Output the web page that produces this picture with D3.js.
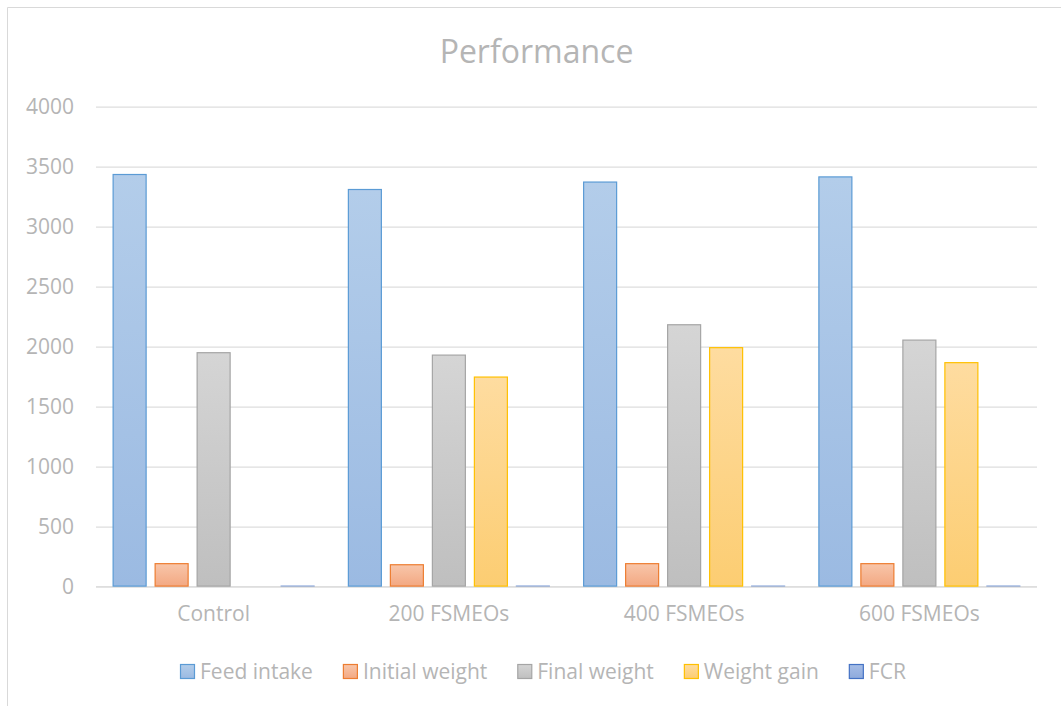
<!DOCTYPE html>
<html>
<head>
<meta charset="utf-8">
<script src="https://cdn.jsdelivr.net/npm/d3@7"></script>
<style>
  html, body { margin: 0; padding: 0; background: #fff; }
  svg { display: block; font-family: "Open Sans", "Noto Sans", sans-serif; }
</style>
</head>
<body>
<svg id="chart" width="1061" height="706"></svg>
<script>
// Treatment groups and measured performance traits
const categories = ["Control", "200 FSMEOs", "400 FSMEOs", "600 FSMEOs"];
const seriesNames = ["Feed intake", "Initial weight", "Final weight", "Weight gain", "FCR"];

const feedIntake    = [3430, 3305, 3367, 3410];
const initialWeight = [187, 178, 187, 187];
const finalWeight   = [1945, 1925, 2178, 2050];
const weightGain    = [0, 1742, 1987, 1862];
const fcr           = [1.76, 1.90, 1.69, 1.83];

const yTicks = [0, 500, 1000, 1500, 2000, 2500, 3000, 3500, 4000];

const seriesValues = [feedIntake, initialWeight, finalWeight, weightGain, fcr];

const styles = [
  { top: "#b3cdea", bottom: "#9bbae2", stroke: "#5b9bd5" },
  { top: "#f8c6aa", bottom: "#f3a882", stroke: "#ed7d31" },
  { top: "#d5d5d5", bottom: "#bfbfbf", stroke: "#a5a5a5" },
  { top: "#fedca0", bottom: "#fccd72", stroke: "#ffc000" },
  { top: "#a6bde6", bottom: "#8eaadc", stroke: "#4472c4" }
];

const svg = d3.select("#chart");
const textColor = "#b5b5b5";
const gridColor = "#dedede";
const fontSize = 21;

// Outer chart frame (top and left edges fall inside the page)
svg.append("path")
  .attr("d", "M7.5,706 V7.5 H1061")
  .attr("fill", "none").attr("stroke", "#d9d9d9").attr("stroke-width", 1);

const plot = { left: 96, right: 1037, top: 106.7, bottom: 586.7 };

const y = d3.scaleLinear().domain([0, 4000]).range([plot.bottom, plot.top]);
const x0 = d3.scaleBand().domain(categories).range([plot.left, plot.right]).padding(0);
const innerWidth = 202;
const x1 = d3.scaleBand().domain(seriesNames).range([0, innerWidth]).paddingInner(0.1905).paddingOuter(0);
const groupOffset = (x0.bandwidth() - innerWidth) / 2;

// Vertical gradients, one per series
const defs = svg.append("defs");
styles.forEach((s, i) => {
  const g = defs.append("linearGradient")
    .attr("id", "grad" + i).attr("x1", 0).attr("y1", 0).attr("x2", 0).attr("y2", 1);
  g.append("stop").attr("offset", "0%").attr("stop-color", s.top);
  g.append("stop").attr("offset", "100%").attr("stop-color", s.bottom);
});

// Title
svg.append("text")
  .attr("x", 536.5).attr("y", 63)
  .attr("text-anchor", "middle")
  .attr("font-size", 32)
  .attr("fill", textColor)
  .text("Performance");

// Horizontal gridlines via the y axis
const yAxis = d3.axisLeft(y).tickValues(yTicks).tickFormat(d3.format("d"))
  .tickSize(-(plot.right - plot.left)).tickPadding(22);
const gy = svg.append("g").attr("transform", `translate(${plot.left},0)`).call(yAxis);
gy.select(".domain").remove();
gy.selectAll(".tick line").attr("stroke", gridColor).attr("stroke-width", 1.3);
gy.selectAll(".tick text")
  .attr("fill", textColor)
  .attr("font-size", fontSize)
  .attr("font-family", "'Open Sans', sans-serif");

// Category axis line (under the bars)
svg.append("line")
  .attr("x1", plot.left).attr("x2", plot.right)
  .attr("y1", plot.bottom).attr("y2", plot.bottom)
  .attr("stroke", gridColor).attr("stroke-width", 1.3);

// Bars
const groups = svg.append("g").selectAll("g")
  .data(categories)
  .join("g")
  .attr("transform", c => `translate(${x0(c) + groupOffset},0)`);

groups.selectAll("rect")
  .data((c, ci) => seriesNames.map((s, si) => ({ s, si, v: seriesValues[si][ci] })).filter(d => d.v > 0))
  .join("rect")
  .attr("x", d => x1(d.s) + 0.5)
  .attr("width", x1.bandwidth() - 1)
  .attr("y", d => y(d.v) - 0.6)
  .attr("height", d => y(0) - y(d.v))
  .attr("fill", d => `url(#grad${d.si})`)
  .attr("stroke", d => styles[d.si].stroke)
  .attr("stroke-opacity", d => d.si === 4 ? 0.45 : 1)
  .attr("stroke-width", 1.2);

// Category labels
const xAxis = d3.axisBottom(x0).tickSize(0).tickPadding(19);
const gx = svg.append("g").attr("transform", `translate(0,${plot.bottom})`).call(xAxis);
gx.select(".domain").remove();
gx.selectAll(".tick text")
  .attr("fill", textColor)
  .attr("font-size", fontSize)
  .attr("font-family", "'Open Sans', sans-serif");

// Legend
const legend = svg.append("g").attr("transform", "translate(0,672)");
let lx = 180;
seriesNames.forEach((name, i) => {
  const item = legend.append("g").attr("transform", `translate(${lx},0)`);
  item.append("rect")
    .attr("x", 0.5).attr("y", -7.5)
    .attr("width", 14).attr("height", 14)
    .attr("fill", `url(#grad${i})`)
    .attr("stroke", styles[i].stroke).attr("stroke-width", 1.2);
  const t = item.append("text")
    .attr("x", 20).attr("y", 0)
    .attr("dy", "0.35em")
    .attr("font-size", fontSize)
    .attr("fill", textColor)
    .text(name);
  lx += 20 + t.node().getComputedTextLength() + 30;
});
</script>
</body>
</html>
